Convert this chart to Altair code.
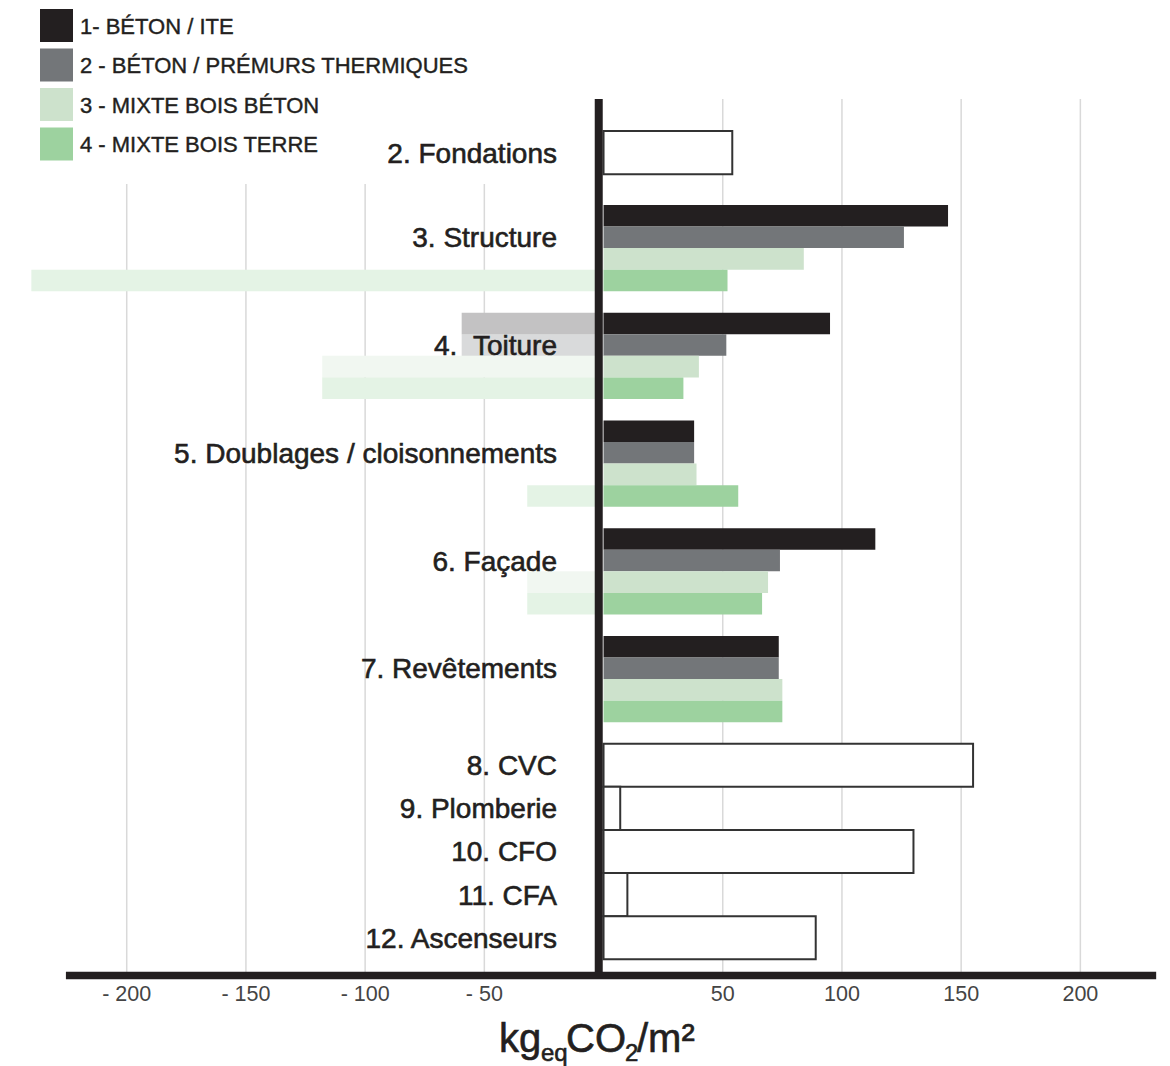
import altair as alt
import pandas as pd

# ---------------- data ----------------
series = ["1- BÉTON / ITE", "2 - BÉTON / PRÉMURS THERMIQUES",
          "3 - MIXTE BOIS BÉTON", "4 - MIXTE BOIS TERRE"]
series_colors = ["#231f20", "#737679", "#cde2cc", "#9dd29f"]

group_cats = ["3. Structure", "4.\u00a0\u00a0Toiture", "5. Doublages / cloisonnements",
              "6. Façade", "7. Revêtements"]
pos_s1 = [144.5, 95, 38, 114, 73.5]
pos_s2 = [126, 51.5, 38, 74, 73.5]
pos_s3 = [84, 40, 39, 69, 75]
pos_s4 = [52, 33.5, 56.5, 66.5, 75]
neg_s1 = [0, -59.5, 0, 0, 0]
neg_s2 = [0, -59.5, 0, 0, 0]
neg_s3 = [0, -118, 0, -32, 0]
neg_s4 = [-240, -118, -32, -32, 0]

single_cats = ["2. Fondations", "8. CVC", "9. Plomberie", "10. CFO", "11. CFA", "12. Ascenseurs"]
single_vals = [54, 155, 7, 130, 10, 89]

tick_values = [-200, -150, -100, -50, 50, 100, 150, 200]
tick_labels = ["- 200", "- 150", "- 100", "- 50", "50", "100", "150", "200"]

# ---------------- tables ----------------
pos_all = [pos_s1, pos_s2, pos_s3, pos_s4]
neg_all = [neg_s1, neg_s2, neg_s3, neg_s4]

rows_pos, rows_neg, labels = [], [], []
for i, cat in enumerate(group_cats):
    top0 = 5 * i
    labels.append({"label": cat, "ly": top0 + 1.5})
    for k, s in enumerate(series):
        top = top0 + k
        rows_pos.append({"cat": cat, "series": s, "val": pos_all[k][i], "top": top, "bot": top + 1})
        if neg_all[k][i] < 0:
            rows_neg.append({"cat": cat, "series": s, "val": neg_all[k][i], "top": top, "bot": top + 1})

rows_single = []
for j, cat in enumerate(single_cats):
    top = -3.43 if j == 0 else 25 + 2 * (j - 1)
    rows_single.append({"cat": cat, "val": single_vals[j], "top": top, "bot": top + 2})
    labels.append({"label": cat, "ly": top + 1})

df_pos = pd.DataFrame(rows_pos)
df_neg = pd.DataFrame(rows_neg)
df_single = pd.DataFrame(rows_single)
df_labels = pd.DataFrame(labels)
df_ticks = pd.DataFrame({"v": tick_values, "t": tick_labels})
df_leg = pd.DataFrame({"series": series, "k": list(range(len(series)))})
df_one = pd.DataFrame({"d": [0]})

FONT = "Liberation Sans"
INK = "#231f20"
xs = alt.Scale(domain=[-253.15, 237.6], nice=False, zero=False)
ys = alt.Scale(domain=[-9.513, 39.954], nice=False, zero=False, reverse=True)


def X(f):
    return alt.X(f, scale=xs, axis=None)


def Y(f):
    return alt.Y(f, scale=ys, axis=None)


color_scale = alt.Scale(domain=series, range=series_colors)


def C():
    return alt.Color("series:N", scale=color_scale, legend=None)


grid_pos = alt.Chart(df_ticks).transform_filter("datum.v > 0").mark_rule(
    color="#d9d9d9", strokeWidth=1.5).encode(
    x=X("v:Q"), y=alt.value(99), y2=alt.value(975))
grid_neg = alt.Chart(df_ticks).transform_filter("datum.v < 0").mark_rule(
    color="#d9d9d9", strokeWidth=1.5).encode(
    x=X("v:Q"), y=alt.value(184), y2=alt.value(975))

neg_under = alt.Chart(df_neg).mark_bar(color="white").encode(
    x=X("val:Q"), x2=alt.X2("zero:Q"), y=Y("top:Q"), y2="bot:Q"
).transform_calculate(zero="0")
neg_bars = alt.Chart(df_neg).mark_bar(opacity=0.27).encode(
    x=X("val:Q"), x2=alt.X2("zero:Q"), y=Y("top:Q"), y2="bot:Q", color=C()
).transform_calculate(zero="0")

pos_bars = alt.Chart(df_pos).mark_bar().encode(
    x=X("val:Q"), x2=alt.X2("zero:Q"), y=Y("top:Q"), y2="bot:Q", color=C()
).transform_calculate(zero="0")

single_bars = alt.Chart(df_single).mark_bar(fill="white", stroke="#333333", strokeWidth=2).encode(
    x=X("val:Q"), x2=alt.X2("zero:Q"), y=Y("top:Q"), y2="bot:Q"
).transform_calculate(zero="0")

zero_line = alt.Chart(df_one).mark_rule(color=INK, strokeWidth=8, xOffset=-4.8).encode(
    x=X("d:Q"), y=alt.value(99), y2=alt.value(979))
axis_line = alt.Chart(df_one).transform_calculate(a="-225.5", b="231.8").mark_rule(
    color=INK, strokeWidth=7.6).encode(
    x=X("a:Q"), x2=alt.X2("b:Q"), y=alt.value(975.5))

cat_labels = alt.Chart(df_labels).mark_text(
    align="right", baseline="alphabetic", dy=10, font=FONT, fontSize=28, color=INK,
    stroke=INK, strokeWidth=0.6).encode(
    x=alt.value(557), y=Y("ly:Q"), text="label:N")

tick_text = alt.Chart(df_ticks).mark_text(
    align="center", baseline="alphabetic", font=FONT, fontSize=21.5, color="#444444").encode(
    x=X("v:Q"), y=alt.value(1000.5), text="t:N")

# legend (drawn from the series list through the shared colour scale)
leg_sq = alt.Chart(df_leg).transform_calculate(ly="25.5 + 39.5 * datum.k").mark_square(
    size=1089, opacity=1, strokeWidth=0).encode(
    x=alt.value(56.5), y=alt.Y("ly:Q", scale=None), color=C())
leg_txt = alt.Chart(df_leg).transform_calculate(ly="25.5 + 39.5 * datum.k").mark_text(
    align="left", baseline="alphabetic", dy=8, font=FONT, fontSize=22, color=INK,
    stroke=INK, strokeWidth=0.4).encode(
    x=alt.value(80), y=alt.Y("ly:Q", scale=None), text="series:N")


def piece(txt, px, py, size):
    return alt.Chart(df_one).mark_text(text=txt, align="left", baseline="alphabetic",
                                       font=FONT, fontSize=size, color=INK,
                                       stroke=INK, strokeWidth=0.6).encode(
        x=alt.value(px), y=alt.value(py))


title_parts = [
    piece("kg", 499, 1052, 40),
    piece("eq", 541, 1061, 24),
    piece("CO", 566, 1052, 40),
    piece("2", 625, 1061, 24),
    piece("/m²", 637, 1052, 40),
]

chart = alt.layer(
    grid_pos, grid_neg, neg_under, neg_bars, pos_bars, single_bars,
    zero_line, axis_line, cat_labels, tick_text, leg_sq, leg_txt, *title_parts
).properties(
    width=1170, height=1066, padding=0,
    autosize=alt.AutoSizeParams(type="none"),
    background="white",
).configure_view(stroke=None)

chart.save("out.html", embed_options={"renderer": "svg", "actions": False})
